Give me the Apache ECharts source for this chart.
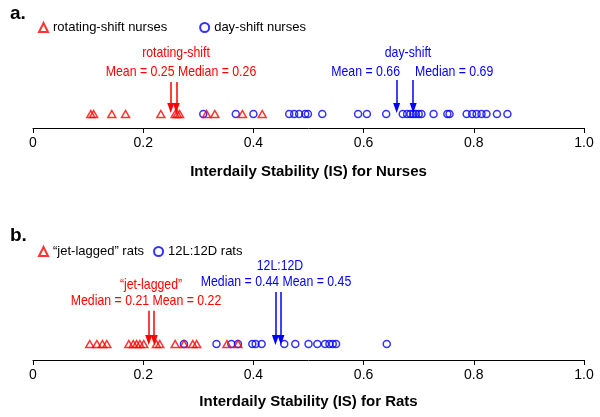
<!DOCTYPE html>
<html>
<head>
<meta charset="utf-8">
<script src="https://cdn.jsdelivr.net/npm/echarts@6/dist/echarts.min.js"></script>
<style>
  html, body { margin: 0; padding: 0; background: #fff; }
  #chart { width: 600px; height: 417px; }
</style>
</head>
<body>
<div id="chart"></div>
<script>
// IS values
var nurseRotating = [0.105, 0.110, 0.143, 0.168, 0.232, 0.258, 0.262, 0.266, 0.315, 0.330, 0.380, 0.416];
var nurseDay = [0.309, 0.368, 0.400, 0.465, 0.474, 0.483, 0.494, 0.499, 0.525, 0.590, 0.606, 0.641,
  0.671, 0.679, 0.685, 0.690, 0.695, 0.700, 0.705, 0.727, 0.752, 0.756, 0.787, 0.797, 0.805,
  0.814, 0.823, 0.842, 0.861];
var ratJetlag = [0.103, 0.116, 0.126, 0.134, 0.174, 0.182, 0.188, 0.194, 0.201, 0.224, 0.230,
  0.258, 0.274, 0.290, 0.297, 0.352, 0.372];
var ratLD = [0.274, 0.333, 0.360, 0.372, 0.398, 0.404, 0.415, 0.456, 0.476, 0.500, 0.516,
  0.530, 0.538, 0.544, 0.550, 0.642];

// [mean, median]
var nurseRotatingStats = [0.25, 0.26];
var nurseDayStats = [0.66, 0.69];
var ratJetlagStats = [0.22, 0.21];
var ratLDStats = [0.45, 0.44];

var tickLabels = ["0", "0.2", "0.4", "0.6", "0.8", "1.0"];
var seriesNames = ["rotating-shift nurses", "day-shift nurses", "\u201cjet-lagged\u201d rats", "12L:12D rats"];

var RED = "#ff0000";
var BLUE = "#0000ff";
var ARIAL = "Arial, 'Liberation Sans', sans-serif";
var NARROW_X = 0.82; // the figure uses a narrow face, squeeze Arial instead

// vertical placement inside each strip (y axis 0..1)
var lay = {
  a: { dot: 0.125, tip: 0.179, redTop: 0.411, blueTop: 0.429 },
  b: { dot: 0.143, tip: 0.179, redTop: 0.44, blueTop: 0.607 }
};

var myChart = echarts.init(document.getElementById("chart"));

function pts(arr, y) {
  return arr.map(function (v) { return [v, y]; });
}

function arrows(stats, top, tip) {
  return stats.map(function (v) {
    return [{ coord: [v, top] }, { coord: [v, tip] }];
  });
}

function fmt(v) {
  return v.toFixed(2);
}

function xAx(idx, name, gap) {
  return {
    gridIndex: idx,
    type: "value",
    min: 0,
    max: 1,
    interval: 0.2,
    name: name,
    nameLocation: "middle",
    nameGap: gap,
    nameTextStyle: { fontFamily: ARIAL, fontWeight: "bold", fontSize: 15, color: "#000" },
    axisLine: { show: true, lineStyle: { color: "#000", width: 1 } },
    axisTick: { show: true, length: 5, lineStyle: { color: "#000" } },
    axisLabel: {
      margin: 8,
      fontFamily: ARIAL,
      fontSize: 14,
      color: "#000",
      formatter: function (v) { return tickLabels[Math.round(v / 0.2)]; }
    },
    splitLine: { show: false }
  };
}

function yAx(idx) {
  return { gridIndex: idx, type: "value", min: 0, max: 1, show: false };
}

function markStyle(color, stats, top, tip) {
  return {
    silent: true,
    animation: false,
    symbol: ["none", "triangle"],
    symbolSize: [7, 10],
    label: { show: false },
    lineStyle: { type: "solid", color: color, width: 1.5 },
    data: arrows(stats, top, tip)
  };
}

function scat(name, idx, arr, y, symbol, size, color, mark) {
  return {
    name: name,
    type: "scatter",
    xAxisIndex: idx,
    yAxisIndex: idx,
    symbol: symbol,
    symbolSize: size,
    itemStyle: { color: "rgba(255,255,255,0)", borderColor: color, borderWidth: 1.5 },
    data: pts(arr, y),
    markLine: mark
  };
}

function txt(x, y, text, color, align, font, sx) {
  return {
    type: "text",
    x: x,
    y: y,
    scaleX: sx || NARROW_X,
    style: {
      text: text,
      fill: color,
      font: font || ("15px " + ARIAL),
      align: align || "center",
      verticalAlign: "middle"
    }
  };
}

var option = {
  animation: false,
  grid: [
    { left: 33, right: 16, top: 16, height: 112 },
    { left: 33, right: 16, top: 248, height: 112 }
  ],
  legend: [
    {
      data: [seriesNames[0], seriesNames[1]],
      left: 33, top: 16, itemGap: 32, itemWidth: 9, itemHeight: 9,
      textStyle: { fontFamily: ARIAL, fontSize: 13, color: "#000" }
    },
    {
      data: [seriesNames[2], seriesNames[3]],
      left: 33, top: 240, itemGap: 9, itemWidth: 9, itemHeight: 9,
      textStyle: { fontFamily: ARIAL, fontSize: 13, color: "#000" }
    }
  ],
  xAxis: [
    xAx(0, "Interdaily Stability (IS) for Nurses", 36),
    xAx(1, "Interdaily Stability (IS) for Rats", 34)
  ],
  yAxis: [yAx(0), yAx(1)],
  series: [
    scat(seriesNames[1], 0, nurseDay, lay.a.dot, "circle", 7, BLUE,
      markStyle(BLUE, nurseDayStats, lay.a.blueTop, lay.a.tip)),
    scat(seriesNames[0], 0, nurseRotating, lay.a.dot, "triangle", [8, 7], RED,
      markStyle(RED, nurseRotatingStats, lay.a.redTop, lay.a.tip)),
    scat(seriesNames[3], 1, ratLD, lay.b.dot, "circle", 7, BLUE,
      markStyle(BLUE, ratLDStats, lay.b.blueTop, lay.b.tip)),
    scat(seriesNames[2], 1, ratJetlag, lay.b.dot, "triangle", [8, 7], RED,
      markStyle(RED, ratJetlagStats, lay.b.redTop, lay.b.tip))
  ],
  graphic: [
    txt(10, 14, "a.", "#000", "left", "bold 19px " + ARIAL, 1),
    txt(10, 236, "b.", "#000", "left", "bold 19px " + ARIAL, 1),
    // panel a notes
    txt(176, 53, "rotating-shift", RED),
    txt(181, 72, "Mean = " + fmt(nurseRotatingStats[0]) + " Median = " + fmt(nurseRotatingStats[1]), RED),
    txt(408, 53, "day-shift", BLUE),
    txt(400, 72, "Mean = " + fmt(nurseDayStats[0]), BLUE, "right"),
    txt(415, 72, "Median = " + fmt(nurseDayStats[1]), BLUE, "left"),
    // panel b notes
    txt(151, 285, "\u201cjet-lagged\u201d", RED),
    txt(146, 301, "Median = " + fmt(ratJetlagStats[1]) + " Mean = " + fmt(ratJetlagStats[0]), RED),
    txt(280, 266, "12L:12D", BLUE),
    txt(276, 282, "Median = " + fmt(ratLDStats[1]) + " Mean = " + fmt(ratLDStats[0]), BLUE)
  ]
};

myChart.setOption(option);
</script>
</body>
</html>
